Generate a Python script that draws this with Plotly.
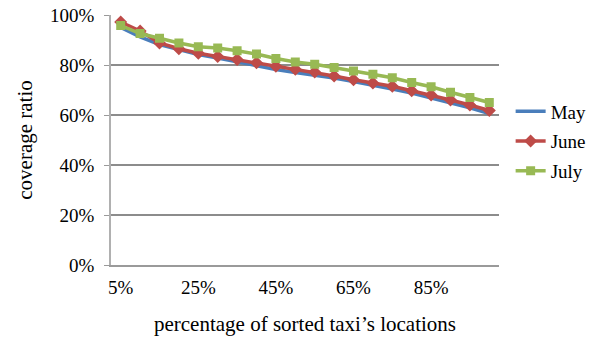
import plotly.graph_objects as go

# share of sorted taxi locations (x categories)
categories = [f"{p}%" for p in range(5, 101, 5)]
tick_labels = ["5%", "25%", "45%", "65%", "85%"]

# coverage ratio per month, in percent
may = [95.0, 91.2, 88.2, 86.3, 84.2, 82.8, 81.3, 79.6, 78.2, 77.0,
       76.0, 74.8, 73.4, 72.0, 70.4, 68.8, 66.9, 65.0, 62.9, 60.6]
june = [97.2, 93.6, 88.8, 86.5, 84.7, 83.4, 82.2, 80.9, 79.5, 78.3,
        77.2, 75.6, 74.1, 72.8, 71.5, 69.7, 68.0, 66.0, 64.0, 61.8]
july = [95.8, 92.6, 90.7, 88.8, 87.3, 86.8, 85.7, 84.4, 82.6, 81.2,
        80.3, 79.0, 77.6, 76.3, 74.9, 73.0, 71.3, 69.1, 67.0, 65.0]

SERIF = "Liberation Serif"

fig = go.Figure()
fig.add_trace(go.Scatter(
    x=categories, y=[v / 100 for v in may], name="May", mode="lines",
    legendgroup="may",
    line=dict(color="#4A7EBB", width=3.5),
))
fig.add_trace(go.Scatter(
    x=categories, y=[v / 100 for v in june], name="June", mode="lines+markers",
    legendgroup="june",
    line=dict(color="#BE4B48", width=3.5),
    marker=dict(symbol="diamond", size=10, color="#BE4B48"),
))
fig.add_trace(go.Scatter(
    x=categories, y=[v / 100 for v in july], name="July", mode="lines+markers",
    legendgroup="july",
    line=dict(color="#98B954", width=3.5),
    marker=dict(symbol="square", size=9, color="#98B954"),
))

fig.update_layout(
    width=600, height=339,
    margin=dict(l=111, r=101, t=15, b=74, autoexpand=False),
    paper_bgcolor="white", plot_bgcolor="white",
    font=dict(family=SERIF, size=19, color="black"),
    legend=dict(
        x=1.03, y=0.494, xanchor="left", yanchor="middle",
        font=dict(family=SERIF, size=19, color="black"),
        itemwidth=30, tracegroupgap=2,
        bgcolor="rgba(0,0,0,0)",
    ),
    xaxis=dict(
        type="category", categoryorder="array", categoryarray=categories,
        tickmode="array", tickvals=tick_labels, ticktext=tick_labels,
        range=[-0.5, 19.5], showgrid=False, zeroline=False, automargin=False,
        showline=True, linecolor="#9a9a9a", linewidth=1.5,
        ticks="", ticklabelstandoff=4,
        tickfont=dict(family=SERIF, size=19, color="black"),
        title=dict(text="percentage of sorted taxi’s locations",
                   font=dict(family=SERIF, size=21, color="black"), standoff=20),
    ),
    yaxis=dict(
        range=[0, 1.0], tickvals=[0, 0.2, 0.4, 0.6, 0.8, 1.0], automargin=False,
        tickformat=".0%", showgrid=True, gridcolor="#8c8c8c", gridwidth=1.5,
        zeroline=False, showline=True, linecolor="#b0b0b0", linewidth=1.5,
        ticks="outside", ticklen=5, tickcolor="#9a9a9a", ticklabelstandoff=6,
        tickfont=dict(family=SERIF, size=19, color="black"),
        title=dict(text="coverage ratio",
                   font=dict(family=SERIF, size=21, color="black"), standoff=12),
    ),
)

fig.write_html("out.html")
